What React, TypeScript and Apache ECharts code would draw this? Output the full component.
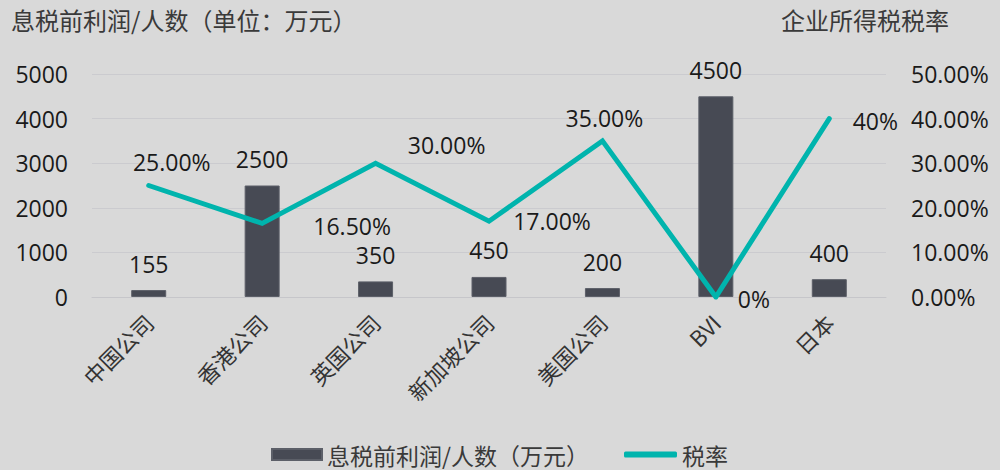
import React, { useEffect, useRef } from "react";
import * as echarts from "echarts";

const categories = ["中国公司", "香港公司", "英国公司", "新加坡公司", "美国公司", "BVI", "日本"];
const profitPerHead = [155, 2500, 350, 450, 200, 4500, 400];
const taxRate = [25, 16.5, 30, 17, 35, 0, 40];
const taxRateLabels = ["25.00%", "16.50%", "30.00%", "17.00%", "35.00%", "0%", "40%"];
const leftTicks = { min: 0, max: 5000, interval: 1000 };
const rightTicks = { min: 0, max: 50, interval: 10 };

const leftTitle = "息税前利润/人数（单位：万元）";
const rightTitle = "企业所得税税率";
const barName = "息税前利润/人数（万元）";
const lineName = "税率";

// label placement offsets for line labels (manual placement as in original)
const lineLabelOffsets: [number, number][] = [
  [23, -24],
  [90, 3],
  [71, -18],
  [63, 0],
  [2, -23],
  [38, 2],
  [46, 2],
];

const NUM_FONT = "'Open Sans', 'Noto Sans CJK SC', sans-serif";
const CJK_FONT = "'Noto Sans CJK SC', 'Open Sans', sans-serif";

export default function App() {
  const ref = useRef<HTMLDivElement>(null);
  useEffect(() => {
    if (!ref.current) return;
    const chart = echarts.init(ref.current, null, { renderer: "svg" });
    const legendText = { fontSize: 23, lineHeight: 25, fontFamily: CJK_FONT, color: "#3a3a3a" };
    chart.setOption({
      animation: false,
      backgroundColor: "#d9d9d9",
      grid: { left: 92, right: 114, top: 74, bottom: 173, containLabel: false },
      graphic: [
        {
          type: "text",
          left: 11,
          top: 7,
          style: { text: leftTitle, font: `24px ${CJK_FONT}`, fill: "#3a3a3a" },
        },
        {
          type: "text",
          left: 781,
          top: 7,
          style: { text: rightTitle, font: `24px ${CJK_FONT}`, fill: "#3a3a3a" },
        },
      ],
      legend: [
        {
          left: 267,
          top: 438,
          padding: 4,
          itemWidth: 50,
          itemHeight: 11,
          textStyle: legendText,
          data: [{ name: barName, icon: "rect" }],
        },
        {
          left: 620,
          top: 438,
          padding: 4,
          itemWidth: 53,
          itemHeight: 6,
          textStyle: legendText,
          data: [{ name: lineName, icon: "roundRect" }],
        },
      ],
      xAxis: {
        type: "category",
        data: categories,
        axisLine: { lineStyle: { color: "#c6c6ca", width: 1 } },
        axisTick: { show: false },
        axisLabel: {
          rotate: 45,
          interval: 0,
          margin: 21,
          fontSize: 22,
          fontFamily: CJK_FONT,
          color: "#333",
        },
      },
      yAxis: [
        {
          type: "value",
          min: leftTicks.min,
          max: leftTicks.max,
          interval: leftTicks.interval,
          axisLine: { show: false },
          axisTick: { show: false },
          splitLine: { lineStyle: { color: "#cbcbcf", width: 1 } },
          axisLabel: {
            margin: 24,
            fontSize: 23,
            fontFamily: NUM_FONT,
            color: "#1a1a1a",
            formatter: (v: number) => String(v),
          },
        },
        {
          type: "value",
          min: rightTicks.min,
          max: rightTicks.max,
          interval: rightTicks.interval,
          axisLine: { show: false },
          axisTick: { show: false },
          splitLine: { show: false },
          axisLabel: {
            margin: 25,
            fontSize: 23,
            fontFamily: NUM_FONT,
            color: "#1a1a1a",
            formatter: (v: number) => v.toFixed(2) + "%",
          },
        },
      ],
      series: [
        {
          name: barName,
          type: "bar",
          yAxisIndex: 0,
          data: profitPerHead,
          barWidth: 35,
          itemStyle: { color: "#474a54", borderColor: "#5c5f68", borderWidth: 1 },
          label: {
            show: true,
            position: "top",
            distance: 15,
            fontSize: 23,
            fontFamily: NUM_FONT,
            color: "#1a1a1a",
          },
        },
        {
          name: lineName,
          type: "line",
          yAxisIndex: 1,
          symbol: "circle",
          symbolSize: 1,
          showSymbol: true,
          data: taxRate.map((v, i) => ({
            value: v,
            label: { offset: lineLabelOffsets[i] },
          })),
          lineStyle: { color: "#00b4ad", width: 5, cap: "round", join: "miter" },
          itemStyle: { color: "#00b4ad", opacity: 1 },
          label: {
            show: true,
            position: "inside",
            align: "center",
            verticalAlign: "middle",
            fontSize: 23,
            fontFamily: NUM_FONT,
            color: "#1a1a1a",
            formatter: (p: any) => taxRateLabels[p.dataIndex],
          },
        },
      ],
    });
    return () => chart.dispose();
  }, []);
  return (
    <div
      ref={ref}
      style={{ position: "fixed", left: 0, top: 0, width: 1000, height: 470 }}
    />
  );
}
